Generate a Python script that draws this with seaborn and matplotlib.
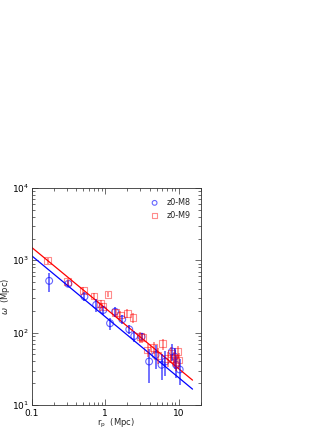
import matplotlib
matplotlib.use("Agg")
import matplotlib.pyplot as plt
import seaborn as sns
import pandas as pd

sns.set_style("ticks")
plt.rcParams['font.family'] = ['DejaVu Sans']

# z0-M8 (blue circles)
m8_rp = [0.172, 0.314, 0.52, 0.75, 0.94, 1.16, 1.36, 1.70, 2.12, 2.48, 3.12,
         3.95, 4.83, 5.83, 6.6, 8.1, 8.85, 9.2, 10.3]
m8_w = [520, 473, 315, 242, 206, 135, 195, 153, 111, 90, 88,
        40, 49, 36, 40, 55, 46.6, 36, 31]
m8_err = [150, 40, 45, 50, 30, 25, 30, 20, 15, 15, 10,
          20, 18, 14, 15, 15, 15, 12, 12]

# z0-M9 (red squares)
m9_rp = [0.165, 0.308, 0.50, 0.70, 0.87, 0.91, 1.09, 1.38, 1.60, 2.0, 2.38,
         3.0, 3.2, 3.77, 4.57, 5.2, 6.08, 7.1, 7.9, 8.5, 9.2, 9.7, 10.0]
m9_w = [990, 508, 382, 322, 250, 229, 340, 189, 176, 185, 163,
        88, 85, 57.5, 63, 49, 70, 44, 52, 44, 40, 55, 42]
m9_err = [100, 50, 40, 30, 30, 25, 25, 25, 25, 25, 25,
          15, 12, 12, 12, 12, 12, 10, 12, 10, 10, 10, 10]

# power-law fit lines (end points)
fit_rp = [0.1, 15.4]
fit_m8 = [1150, 16.6]
fit_m9 = [1500, 22.1]

fig = plt.figure(figsize=(3.32, 4.30), dpi=100)
ax = fig.add_axes([0.096, 0.058, 0.509, 0.505])

fits = pd.DataFrame({"rp": fit_rp * 2, "w": fit_m8 + fit_m9,
                     "sample": ["z0-M8"] * 2 + ["z0-M9"] * 2})
sns.lineplot(data=fits, x="rp", y="w", hue="sample",
             palette={"z0-M8": "blue", "z0-M9": "red"},
             linewidth=0.9, legend=False, ax=ax)

ax.errorbar(m8_rp, m8_w, yerr=m8_err, fmt="none", ecolor="blue",
            elinewidth=1.2, alpha=0.65)
ax.errorbar(m9_rp, m9_w, yerr=m9_err, fmt="none", ecolor="red",
            elinewidth=1.2, alpha=0.5)

m8 = pd.DataFrame({"rp": m8_rp, "w": m8_w})
m9 = pd.DataFrame({"rp": m9_rp, "w": m9_w})
sns.scatterplot(data=m8, x="rp", y="w", marker="o", s=24, facecolor="none",
                edgecolor="blue", linewidth=0.8, alpha=0.6, ax=ax, label="z0-M8")
sns.scatterplot(data=m9, x="rp", y="w", marker="s", s=24, facecolor="none",
                edgecolor="red", linewidth=0.8, alpha=0.45, ax=ax, label="z0-M9")

ax.set_xscale("log")
ax.set_yscale("log")
ax.set_xlim(0.1, 20)
ax.set_ylim(10, 1e4)
ax.set_xticks([0.1, 1, 10])
ax.set_xticklabels(["0.1", "1", "10"])
ax.tick_params(which="both", direction="in", top=True, right=True,
               labelsize=6.5, width=0.5, colors="#333333", labelcolor="black",
               pad=2)
ax.tick_params(axis="x", which="major", pad=3)
ax.tick_params(which="major", length=4)
ax.tick_params(which="minor", length=2)
for s in ax.spines.values():
    s.set_linewidth(0.6)
    s.set_color("#333333")

ax.set_xlabel(r"r$_\mathrm{p}$  (Mpc)", fontsize=6, labelpad=-1)
ax.set_ylabel(r"$\omega$  (Mpc)", fontsize=6, labelpad=0)

leg = ax.legend(loc="upper right", frameon=False, fontsize=5.8,
                handletextpad=0.5, markerscale=0.7, borderaxespad=0.85,
                labelspacing=0.45)

fig.savefig("out.png", dpi=100)
